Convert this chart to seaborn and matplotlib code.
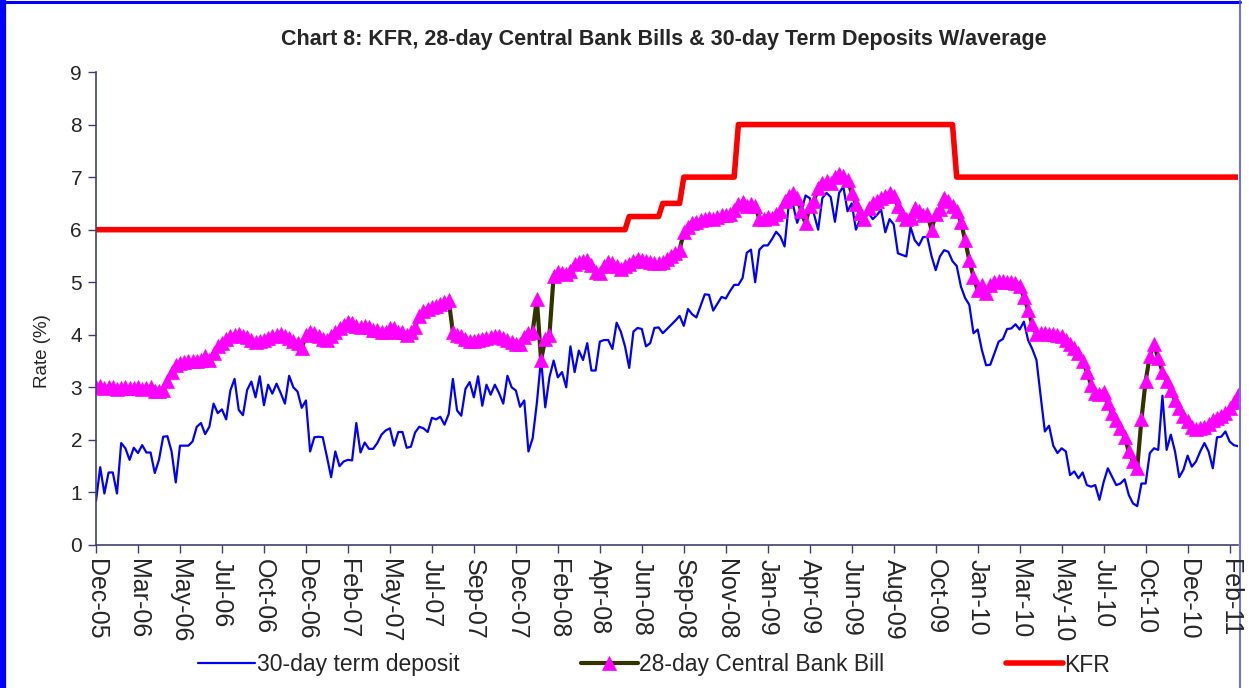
import numpy as np
import pandas as pd
import seaborn as sns
import matplotlib.pyplot as plt
from matplotlib.lines import Line2D

# weekly series, Dec-05 .. Feb-11 (273 weeks)
term_deposit = [
    0.84, 1.48, 0.98, 1.38, 1.38, 0.98, 1.94, 1.84, 1.62, 1.85,
    1.75, 1.90, 1.76, 1.76, 1.37, 1.62, 2.06, 2.07, 1.78, 1.19,
    1.89, 1.89, 1.89, 1.97, 2.25, 2.32, 2.11, 2.25, 2.69, 2.51,
    2.58, 2.39, 2.94, 3.16, 2.57, 2.47, 2.95, 3.11, 2.81, 3.21,
    2.66, 3.05, 2.88, 3.07, 2.89, 2.69, 3.22, 3.00, 2.92, 2.61,
    2.75, 1.78, 2.05, 2.06, 2.05, 1.68, 1.29, 1.78, 1.50, 1.59,
    1.62, 1.61, 2.32, 1.76, 1.95, 1.83, 1.83, 1.94, 2.10, 2.18,
    2.22, 1.89, 2.15, 2.15, 1.85, 1.87, 2.14, 2.25, 2.22, 2.15,
    2.42, 2.39, 2.44, 2.29, 2.49, 3.16, 2.56, 2.46, 2.97, 3.10,
    2.81, 3.21, 2.65, 3.05, 2.86, 3.05, 2.89, 2.69, 3.22, 3.00,
    2.94, 2.63, 2.75, 1.78, 2.03, 2.70, 3.54, 2.62, 3.19, 3.51,
    3.19, 3.29, 3.00, 3.78, 3.29, 3.70, 3.52, 3.84, 3.32, 3.32,
    3.87, 3.90, 3.90, 3.73, 4.23, 4.06, 3.78, 3.37, 4.06, 4.13,
    4.11, 3.78, 3.84, 4.13, 4.14, 4.03, 4.11, 4.19, 4.27, 4.36,
    4.17, 4.49, 4.39, 4.33, 4.55, 4.77, 4.76, 4.46, 4.59, 4.72,
    4.69, 4.83, 4.95, 4.95, 5.08, 5.56, 5.62, 5.00, 5.62, 5.70,
    5.70, 5.82, 5.96, 5.87, 5.68, 6.48, 6.48, 6.13, 6.35, 6.65,
    6.60, 6.30, 6.00, 6.60, 6.70, 6.62, 6.15, 6.70, 6.82, 6.35,
    6.50, 6.00, 6.20, 6.30, 6.32, 6.20, 6.28, 6.38, 5.95, 6.20,
    6.10, 5.55, 5.52, 5.49, 6.05, 5.80, 5.70, 5.86, 5.86, 5.50,
    5.23, 5.49, 5.61, 5.58, 5.40, 5.31, 4.92, 4.70, 4.57, 4.03,
    4.10, 3.71, 3.42, 3.43, 3.65, 3.87, 3.92, 4.11, 4.12, 4.20,
    4.10, 4.25, 3.90, 3.73, 3.52, 2.83, 2.16, 2.27, 1.89, 1.75,
    1.84, 1.78, 1.33, 1.40, 1.27, 1.38, 1.14, 1.11, 1.14, 0.86,
    1.20, 1.46, 1.30, 1.14, 1.17, 1.25, 0.95, 0.79, 0.74, 1.17,
    1.17, 1.75, 1.84, 1.81, 2.84, 1.81, 2.10, 1.78, 1.29, 1.43,
    1.70, 1.49, 1.59, 1.78, 1.94, 1.78, 1.46, 2.05, 2.06, 2.16,
    1.97, 1.90, 1.88,
]

cb_bill = [
    3.00, 3.02, 2.98, 3.00, 3.00, 2.97, 2.99, 3.00, 2.98, 2.98,
    3.00, 2.97, 2.99, 3.00, 2.93, 2.93, 2.95, 3.12, 3.30, 3.42,
    3.47, 3.48, 3.50, 3.50, 3.50, 3.52, 3.60, 3.52, 3.65, 3.78,
    3.85, 3.92, 3.97, 4.00, 4.02, 3.98, 3.95, 3.90, 3.87, 3.88,
    3.90, 3.93, 3.97, 4.00, 4.01, 3.98, 3.93, 3.88, 3.84, 3.75,
    4.00, 4.05, 4.03, 3.97, 3.92, 3.90, 3.98, 4.05, 4.12, 4.18,
    4.24, 4.22, 4.17, 4.15, 4.16, 4.15, 4.10, 4.10, 4.06, 4.05,
    4.12, 4.12, 4.06, 4.05, 4.00, 4.05, 4.15, 4.35, 4.45, 4.50,
    4.52, 4.55, 4.58, 4.62, 4.66, 4.05, 4.00, 3.98, 3.92, 3.88,
    3.88, 3.90, 3.92, 3.93, 3.95, 3.97, 3.97, 3.93, 3.90, 3.87,
    3.83, 3.82, 3.95, 4.03, 4.05, 4.68, 3.52, 3.92, 4.00, 5.12,
    5.20, 5.18, 5.15, 5.22, 5.35, 5.38, 5.40, 5.42, 5.32, 5.20,
    5.18, 5.30, 5.38, 5.36, 5.30, 5.25, 5.30, 5.35, 5.40, 5.45,
    5.42, 5.40, 5.38, 5.37, 5.36, 5.38, 5.45, 5.50, 5.55, 5.62,
    5.95, 6.05, 6.12, 6.15, 6.18, 6.20, 6.22, 6.20, 6.25, 6.27,
    6.28, 6.30, 6.38, 6.48, 6.52, 6.45, 6.48, 6.45, 6.20, 6.20,
    6.25, 6.22, 6.30, 6.35, 6.55, 6.65, 6.70, 6.60, 6.35, 6.12,
    6.45, 6.55, 6.80, 6.88, 6.92, 6.88, 7.00, 7.05, 7.02, 6.95,
    6.70, 6.48, 6.32, 6.20, 6.42, 6.50, 6.55, 6.60, 6.65, 6.70,
    6.65, 6.45, 6.30, 6.20, 6.22, 6.42, 6.35, 6.28, 6.30, 6.00,
    6.30, 6.40, 6.60, 6.55, 6.45, 6.35, 6.15, 5.80, 5.42, 5.10,
    4.85, 4.95, 4.80, 4.95, 5.00, 5.02, 5.02, 5.00, 5.00, 4.98,
    4.92, 4.72, 4.48, 4.20, 4.02, 4.03, 4.03, 4.02, 4.02, 4.00,
    3.97, 3.90, 3.82, 3.75, 3.65, 3.50, 3.30, 3.05, 2.90, 2.88,
    2.92, 2.70, 2.52, 2.38, 2.22, 2.05, 1.78, 1.60, 1.47, 2.39,
    3.12, 3.60, 3.82, 3.55, 3.30, 3.12, 2.95, 2.75, 2.60, 2.45,
    2.35, 2.25, 2.20, 2.22, 2.25, 2.30, 2.38, 2.42, 2.45, 2.52,
    2.60, 2.72, 2.85,
]

# KFR is a step series: level and number of weeks it was held
kfr_levels = [6.0, 6.25, 6.5, 7.0, 8.0, 7.0]
kfr_weeks = [127, 8, 5, 13, 52, 68]

tick_labels = ["Dec-05", "Mar-06", "May-06", "Jul-06", "Oct-06", "Dec-06", "Feb-07",
               "May-07", "Jul-07", "Sep-07", "Dec-07", "Feb-08", "Apr-08", "Jun-08",
               "Sep-08", "Nov-08", "Jan-09", "Apr-09", "Jun-09", "Aug-09", "Oct-09",
               "Jan-10", "Mar-10", "May-10", "Jul-10", "Oct-10", "Dec-10", "Feb-11"]

week = np.arange(len(term_deposit))
df = pd.DataFrame({"week": week,
                   "td": term_deposit,
                   "cb": cb_bill,
                   "kfr": np.repeat(kfr_levels, kfr_weeks)})

sns.set_style("white")
plt.rcParams["font.family"] = ["Liberation Sans", "DejaVu Sans"]

W, H = 1249, 688
fig = plt.figure(figsize=(W / 100, H / 100), dpi=100)
ax = fig.add_axes([96 / W, 1 - 545 / H, (1238 - 96) / W, (545 - 72) / H])

sns.lineplot(data=df, x="week", y="td", ax=ax, color="#0000FF", linewidth=1.6,
             label="30-day term deposit")
sns.lineplot(data=df, x="week", y="cb", ax=ax, color="#333300", linewidth=3,
             marker="^", markersize=10, markerfacecolor="#FF00FF",
             markeredgecolor="#FF00FF", markeredgewidth=0.5,
             label="28-day Central Bank Bill")
sns.lineplot(data=df, x="week", y="kfr", ax=ax, color="#FF0000", linewidth=4,
             label="KFR")

ax.set_xlim(0, len(week) - 1)
ax.set_ylim(0, 9)
ax.set_xticks(np.arange(0, 10 * len(tick_labels), 10))
ax.set_xticklabels(tick_labels, rotation=-90, fontsize=18)
ax.set_yticks(range(10))
ax.tick_params(axis="y", labelsize=15)
ax.tick_params(bottom=True, left=True, direction="out", length=6, width=1,
               color="#404070", pad=4)
ax.set_xlabel("")
ax.set_ylabel("Rate (%)", fontsize=13.5)
ax.yaxis.set_label_coords(-0.039, 0.41)

for side in ["left", "bottom"]:
    ax.spines[side].set_color("#404070")
    ax.spines[side].set_linewidth(1.2)
ax.spines["top"].set_visible(False)
ax.spines["right"].set_visible(False)

fig.text(664 / W, 1 - 39 / H,
         "Chart 8: KFR, 28-day Central Bank Bills & 30-day Term Deposits W/average",
         ha="center", va="center", fontsize=15.5, fontweight="bold")

handles, labels = ax.get_legend_handles_labels()
ax.get_legend().remove()
fig.legend(handles, labels, loc="center", bbox_to_anchor=(654 / W, 1 - 665 / H),
           ncol=3, frameon=False, fontsize=16.5, handlelength=2.5,
           handletextpad=0.05, columnspacing=5.3)

# chart frame: thick left edge, thin top and right edges (kept behind the text)
fig.add_artist(Line2D([3 / W, 3 / W], [0, 1], transform=fig.transFigure,
                      color="#0000FF", linewidth=4.5, zorder=-1))
fig.add_artist(Line2D([0, 1240 / W], [1 - 1.5 / H, 1 - 1.5 / H],
                      transform=fig.transFigure, color="#0000FF", linewidth=2.2,
                      zorder=-1))
fig.add_artist(Line2D([1240 / W, 1240 / W], [0, 1], transform=fig.transFigure,
                      color="#5050FF", linewidth=1.2, zorder=-1))

fig.savefig("out.png", dpi=100)
